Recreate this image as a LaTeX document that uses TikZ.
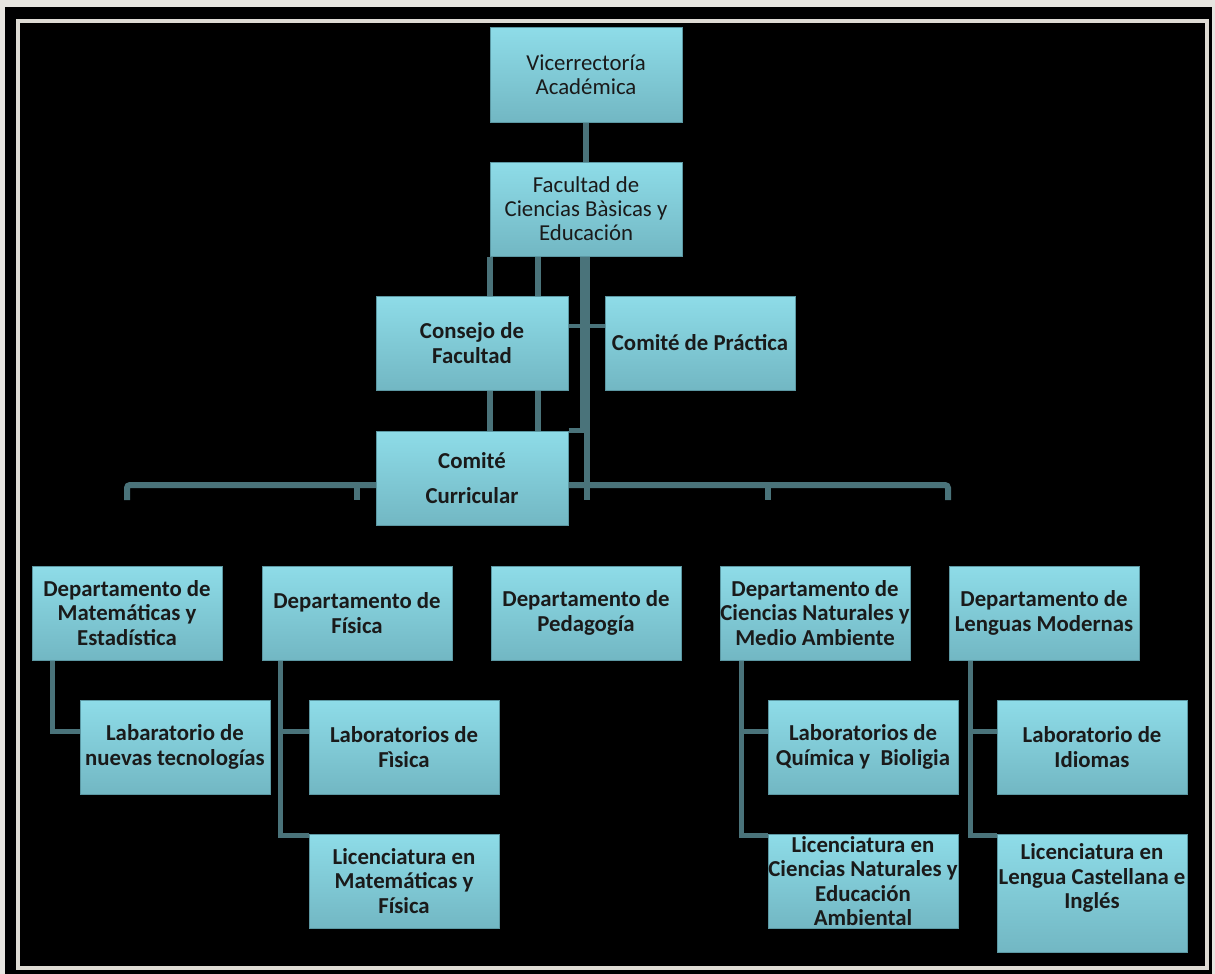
\documentclass[tikz,border=0pt]{standalone}
\usepackage{fontspec}
\setmainfont{Carlito}
\pgfdeclarelayer{bg}
\pgfdeclarelayer{mid}
\pgfsetlayers{bg,mid,main}
\definecolor{pagebg}{HTML}{E7E5E0}
\definecolor{framec}{HTML}{DEDBD4}
\definecolor{boxtop}{HTML}{8EDCE8}
\definecolor{boxbot}{HTML}{72B7C3}
\definecolor{boxline}{HTML}{5C98A3}
\definecolor{connc}{HTML}{4A737A}
\definecolor{txtc}{HTML}{1A1A1A}
\newcommand\boxfontB{\fontsize{22.8}{24.5}\selectfont\bfseries}
\newcommand\boxfontR{\fontsize{22.8}{24}\selectfont}
\tikzset{
  orgbox/.style={draw=boxline, line width=1, top color=boxtop, bottom color=boxbot,
    minimum width=190, minimum height=94, inner sep=0, align=center,
    font=\boxfontB, text=txtc},
  toptext/.style={font=\boxfontR},
  plaintext/.style={inner sep=0, align=center, font=\boxfontB, text=txtc},
  conn/.style={draw=connc, line width=6},
  thickconn/.style={draw=connc, line width=10},
  subconn/.style={draw=connc, line width=5},
  stubconn/.style={draw=connc, line width=4.5},
}
\begin{document}
\begin{tikzpicture}[x=1pt,y=-1pt]
\useasboundingbox (0,0) rectangle (1215,974);
\begin{pgfonlayer}{bg}
\fill[pagebg] (0,0) rectangle (1215,974);
\fill[black] (5,7) rectangle (1212,974);
\draw[framec, line width=3.5] (18,21) rectangle (1207,968);
\end{pgfonlayer}

% top
\node[orgbox, toptext, minimum width=192] (vic) at (586,75) {Vicerrectoría\\Académica};
\node[orgbox, toptext, minimum width=192] (fac) at (586,209) {Facultad de\\Ciencias Bàsicas y\\Educación};
\node[orgbox, minimum width=192] (con) at (472,343) {Consejo de\\Facultad};
\node[orgbox] (pra) at (700,343) {Comité de Práctica};
\node[orgbox, minimum width=192] (cur) at (472,478) {Comité\\[10.5pt]Curricular};

% departments
\node[orgbox] (dm) at (127,613) {Departamento de\\Matemáticas y\\Estadística};
\node[orgbox] (df) at (357,613) {Departamento de\\Física};
\node[orgbox] (dp) at (586,613) {Departamento de\\Pedagogía};
\node[orgbox] (dc) at (815,613) {Departamento de\\Ciencias Naturales y\\Medio Ambiente};
\node[orgbox] (dl) at (1044,613) {Departamento de\\Lenguas Modernas};

% sub boxes
\node[orgbox] (ln) at (175,747) {Labaratorio de\\nuevas tecnologías};
\node[orgbox] (lf) at (404,747) {Laboratorios de\\Fìsica};
\node[orgbox] (lm) at (404,881) {Licenciatura en\\Matemáticas y\\Física};
\node[orgbox] (lq) at (863,747) {Laboratorios de\\Química y\ \ Bioligia};
\node[orgbox] (lc) at (863,881) {Licenciatura en\\Ciencias Naturales y\\Educación\\Ambiental};
\node[orgbox] (li) at (1092,747) {Laboratorio de\\Idiomas};
\node[orgbox, minimum height=118, anchor=north] (ll) at (1092,834) {};
\node[plaintext] (lltext) at (1092,878) {Licenciatura en\\Lengua Castellana e\\Inglés};

% helper coordinates
\coordinate (xa) at (490,0);
\coordinate (xb) at (538,0);
\coordinate (xc) at (585,0);
\coordinate (xd) at (587,0);
\coordinate (yp) at (0,326);
\coordinate (by) at (0,485);
\coordinate (bc) at (587,500);
\coordinate (b1) at (127,500);
\coordinate (b2) at (357,500);
\coordinate (b3) at (768,500);
\coordinate (b4) at (948,500);
\coordinate (xm) at (52,0);
\coordinate (xf) at (280,0);
\coordinate (xn) at (741,0);
\coordinate (xl) at (970,0);
\coordinate (lnc) at ([yshift=16pt]ln.west);
\coordinate (lfc) at ([yshift=16pt]lf.west);
\coordinate (lmc) at ([yshift=-1.5pt]lm.north west);
\coordinate (lqc) at ([yshift=16pt]lq.west);
\coordinate (lcc) at ([yshift=-1.5pt]lc.north west);
\coordinate (lic) at ([yshift=16pt]li.west);
\coordinate (llc) at ([yshift=-1.5pt]ll.north west);

\begin{pgfonlayer}{mid}
\draw[conn] (vic.south) -- (fac.north);
\draw[conn] (fac.south -| xa) -- (con.north -| xa);
\draw[conn] (fac.south -| xb) -- (con.north -| xb);
\draw[conn] (con.south -| xa) -- (cur.north -| xa);
\draw[conn] (con.south -| xb) -- (cur.north -| xb);
\draw[thickconn] (fac.south -| xc) -- (cur.north -| xc);
\draw[conn] (cur.north -| xd) -- (bc);
\draw[stubconn] (con.east |- yp) -- (pra.west |- yp);
\draw[stubconn] (cur.north east) -- (cur.north east -| xc);
\draw[conn, rounded corners=3] (b1) -- (b1 |- by) -- (b4 |- by) -- (b4);
\draw[conn] (b2 |- by) -- (b2);
\draw[conn] (b3 |- by) -- (b3);
% department subtrees
\draw[subconn] (dm.south -| xm) |- (lnc);
\draw[subconn] (df.south -| xf) |- (lmc);
\draw[subconn] (lfc -| xf) -- (lfc);
\draw[subconn] (dc.south -| xn) |- (lcc);
\draw[subconn] (lqc -| xn) -- (lqc);
\draw[subconn] (dl.south -| xl) |- (llc);
\draw[subconn] (lic -| xl) -- (lic);
\end{pgfonlayer}
\end{tikzpicture}
\end{document}
